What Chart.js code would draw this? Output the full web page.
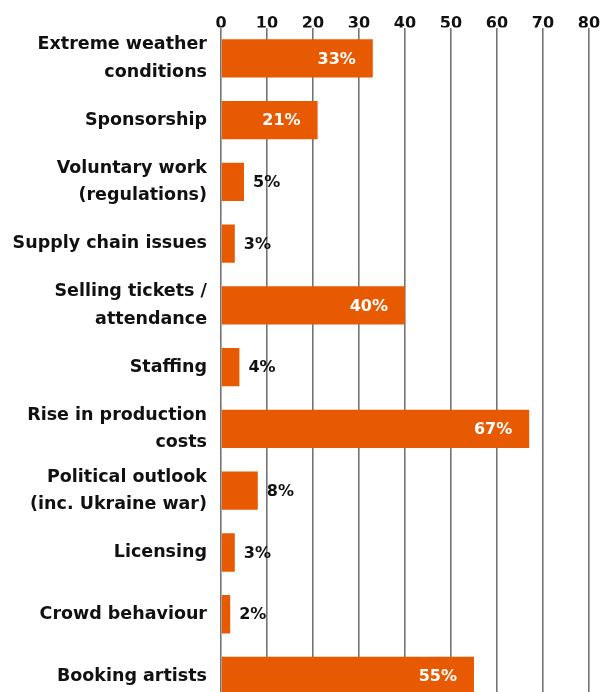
<!DOCTYPE html>
<html>
<head>
<meta charset="utf-8">
<script src="https://cdn.jsdelivr.net/npm/chart.js@4.4.1/dist/chart.umd.min.js"></script>
<style>
  html, body { margin: 0; padding: 0; background: #fff; overflow: hidden; }
  #wrap { width: 603px; height: 692px; overflow: hidden; }
</style>
</head>
<body>
<div id="wrap"><canvas id="chart" width="603" height="748"></canvas></div>
<script>
const categories = [
  ['Extreme weather', 'conditions'],
  'Sponsorship',
  ['Voluntary work', '(regulations)'],
  'Supply chain issues',
  ['Selling tickets /', 'attendance'],
  'Staffing',
  ['Rise in production', 'costs'],
  ['Political outlook', '(inc. Ukraine war)'],
  'Licensing',
  'Crowd behaviour',
  'Booking artists'
];
const shares = [33, 21, 5, 3, 40, 4, 67, 8, 3, 2, 55];
const xTicks = [0, 10, 20, 30, 40, 50, 60, 70, 80];

const ORANGE = '#E85A02';
const FONT = '"DejaVu Sans", sans-serif';

// percentage labels: white inside long bars, black after short ones
const valueLabels = {
  id: 'valueLabels',
  afterDatasetsDraw(chart) {
    const ctx = chart.ctx;
    const meta = chart.getDatasetMeta(0);
    ctx.save();
    ctx.font = 'bold 16px ' + FONT;
    ctx.textBaseline = 'middle';
    meta.data.forEach((bar, i) => {
      const v = chart.data.datasets[0].data[i];
      const text = v + '%';
      if (v >= 15) {
        ctx.fillStyle = '#ffffff';
        ctx.textAlign = 'right';
        ctx.fillText(text, bar.x - 17, bar.y + 1);
      } else {
        ctx.fillStyle = '#111111';
        ctx.textAlign = 'left';
        ctx.fillText(text, bar.x + 9, bar.y + 1);
      }
    });
    ctx.restore();
  }
};

new Chart(document.getElementById('chart'), {
  type: 'bar',
  data: {
    labels: categories,
    datasets: [{
      data: shares,
      backgroundColor: ORANGE,
      borderWidth: 0,
      barPercentage: 0.62,
      categoryPercentage: 1
    }]
  },
  options: {
    indexAxis: 'y',
    responsive: false,
    animation: false,
    layout: { padding: { left: 0, right: 14, top: 0, bottom: 0 } },
    plugins: {
      legend: { display: false },
      tooltip: { enabled: false }
    },
    scales: {
      x: {
        position: 'top',
        min: 0,
        max: 80,
        afterBuildTicks(scale) {
          scale.ticks = xTicks.map(v => ({ value: v }));
        },
        afterFit(scale) { scale.height = 27; },
        border: { display: false },
        grid: { color: '#747474', lineWidth: 1.6, drawTicks: false },
        ticks: {
          padding: -4,
          color: '#111',
          font: { family: FONT, size: 16, weight: 'bold', lineHeight: 1 }
        }
      },
      y: {
        afterFit(scale) { scale.width = 221; },
        border: { display: false },
        grid: { display: false, drawTicks: false },
        ticks: {
          padding: 14,
          color: '#111',
          font: { family: FONT, size: 17.5, weight: 'bold', lineHeight: 1.55 }
        }
      }
    }
  },
  plugins: [valueLabels]
});
</script>
</body>
</html>
